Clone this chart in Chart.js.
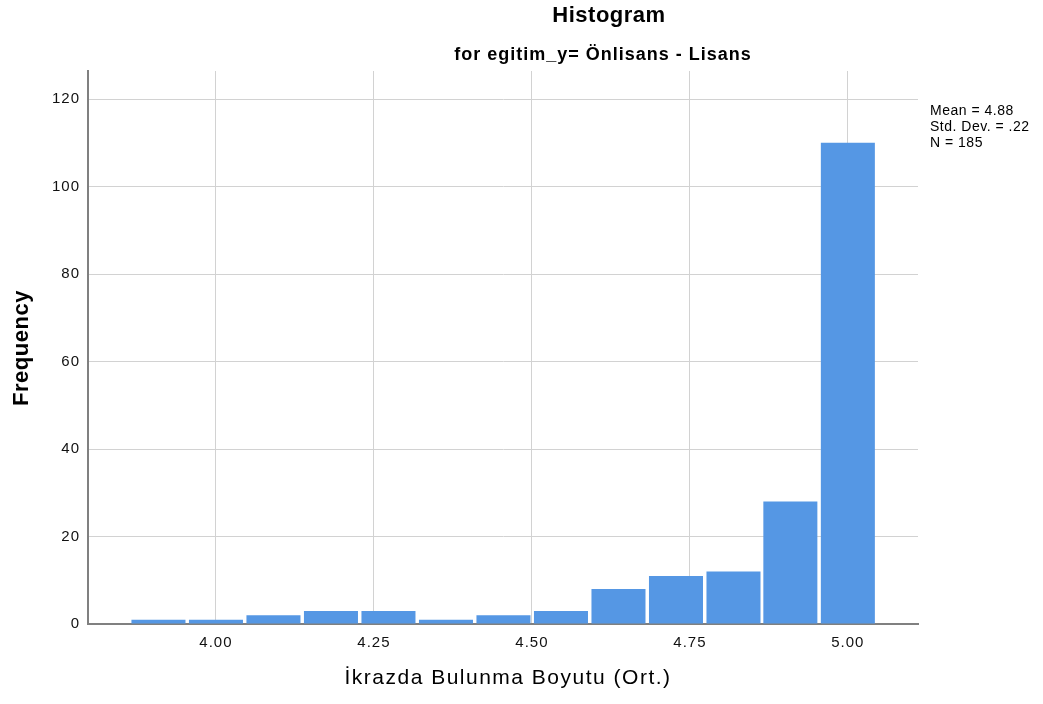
<!DOCTYPE html>
<html>
<head>
<meta charset="utf-8">
<script src="https://cdn.jsdelivr.net/npm/chart.js@4/dist/chart.umd.min.js"></script>
<style>
  body { margin: 0; background: #fff; }
  canvas { display: block; }
</style>
</head>
<body>
<canvas id="histChart" width="1043" height="704"></canvas>
<script>
// histogram data
const binCenters = [3.909, 4.000, 4.091, 4.182, 4.273, 4.364, 4.455, 4.546, 4.637, 4.728, 4.819, 4.909, 5.000];
const frequencies = [1, 1, 2, 3, 3, 1, 2, 3, 8, 11, 12, 28, 110];
const xTicks = [4.00, 4.25, 4.50, 4.75, 5.00];
const yTicks = [0, 20, 40, 60, 80, 100, 120];
const statsLines = ['Mean = 4.88', 'Std. Dev. = .22', 'N = 185'];

const titleText = 'Histogram';
const subtitleText = 'for egitim_y= Önlisans - Lisans';
const xTitle = 'İkrazda Bulunma Boyutu (Ort.)';
const yTitle = 'Frequency';

const FONT = '"Liberation Sans", Arial, sans-serif';

// titles, axis titles and stats box
const textPlugin = {
    id: 'spssText',
    beforeDraw(chart) {
        chart.ctx.letterSpacing = '1px';
    },
    afterDraw(chart) {
        const ctx = chart.ctx;
        ctx.save();
        ctx.fillStyle = '#000';
        ctx.textBaseline = 'alphabetic';
        ctx.textAlign = 'center';

        ctx.letterSpacing = '0.5px';
        ctx.font = 'bold 22px ' + FONT;
        ctx.fillText(titleText, 609, 22);

        ctx.letterSpacing = '1px';
        ctx.font = 'bold 18px ' + FONT;
        ctx.fillText(subtitleText, 603, 60);

        ctx.letterSpacing = '1.5px';
        ctx.font = '21px ' + FONT;
        ctx.fillText(xTitle, 508, 684);

        ctx.save();
        ctx.translate(22, 348);
        ctx.rotate(-Math.PI / 2);
        ctx.letterSpacing = '0.5px';
        ctx.font = 'bold 22px ' + FONT;
        ctx.textBaseline = 'middle';
        ctx.fillText(yTitle, 0, 0);
        ctx.restore();

        ctx.textAlign = 'left';
        ctx.letterSpacing = '0.5px';
        ctx.font = '14px ' + FONT;
        statsLines.forEach((line, i) => ctx.fillText(line, 930, 115 + i * 16));
        ctx.restore();
    }
};

const ctx = document.getElementById('histChart').getContext('2d');
new Chart(ctx, {
    type: 'bar',
    data: {
        datasets: [{
            data: binCenters.map((x, i) => ({ x: x, y: frequencies[i] })),
            backgroundColor: '#5597E4',
            borderWidth: 0,
            barPercentage: 0.95,
            categoryPercentage: 1
        }]
    },
    options: {
        responsive: false,
        animation: false,
        layout: { padding: { left: 0, right: 125, top: 71, bottom: 0 } },
        plugins: { legend: { display: false }, tooltip: { enabled: false } },
        scales: {
            x: {
                type: 'linear',
                min: 3.7975,
                max: 5.111,
                offset: false,
                afterBuildTicks: (scale) => { scale.ticks = xTicks.map(v => ({ value: v })); },
                afterFit: (scale) => { scale.height = 80; },
                grid: { color: '#d2d2d2', lineWidth: 1, drawTicks: false, offset: false },
                border: { color: '#808080', width: 2 },
                ticks: {
                    color: '#111',
                    font: { family: FONT, size: 15 },
                    padding: 10,
                    maxRotation: 0,
                    callback: (v) => Number(v).toFixed(2)
                }
            },
            y: {
                min: 0,
                max: 126.4,
                afterBuildTicks: (scale) => { scale.ticks = yTicks.map(v => ({ value: v })); },
                afterFit: (scale) => { scale.width = 88; },
                grid: { color: '#d2d2d2', lineWidth: 1, drawTicks: false },
                border: { color: '#808080', width: 2 },
                ticks: {
                    color: '#111',
                    font: { family: FONT, size: 15 },
                    padding: 8
                }
            }
        }
    },
    plugins: [textPlugin]
});
</script>
</body>
</html>
